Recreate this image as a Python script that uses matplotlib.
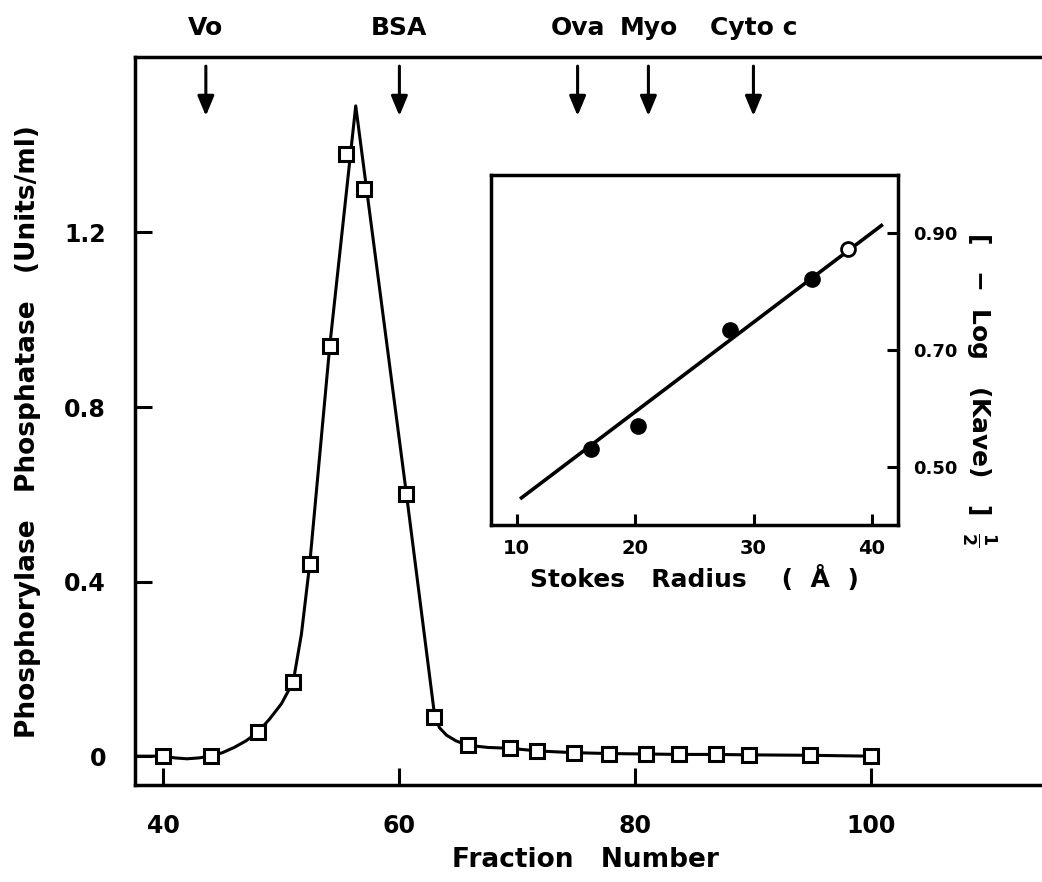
import numpy as np
import matplotlib
matplotlib.use('Agg')
import matplotlib.pyplot as plt

plt.rcParams['font.family'] = ['DejaVu Sans']
plt.rcParams['font.weight'] = 'bold'
plt.rcParams['mathtext.fontset'] = 'dejavusans'
plt.rcParams['mathtext.default'] = 'bf'

# phosphatase activity across the gel filtration fractions
fraction = [40, 44, 48, 51, 52.4, 54.1, 55.5, 57.0, 60.6, 62.9, 65.8, 69.4,
            71.7, 74.8, 77.8, 80.9, 83.7, 86.8, 89.6, 94.8, 100]
activity = [0.0, 0.0, 0.055, 0.17, 0.44, 0.94, 1.38, 1.30, 0.60, 0.09, 0.025,
            0.018, 0.012, 0.008, 0.006, 0.005, 0.004, 0.004, 0.003, 0.002, 0.0]

# hand drawn elution curve
curve_x = [37.7, 40, 41, 42, 43, 44, 45, 46, 47, 48, 49, 50, 51, 51.7, 52.4,
           54.1, 56.3, 60.6, 63.0, 63.4, 64.0, 64.8, 65.8, 67.5, 69.4, 71.7,
           74.8, 77.8, 80.9, 83.7, 86.8, 89.6, 94.8, 100]
curve_y = [0.0, 0.0, -0.004, -0.006, -0.004, 0.0, 0.008, 0.02, 0.035, 0.055,
           0.085, 0.12, 0.17, 0.28, 0.44, 0.94, 1.49, 0.60, 0.09, 0.065, 0.048,
           0.035, 0.025, 0.02, 0.018, 0.012, 0.008, 0.006, 0.005, 0.004, 0.004,
           0.003, 0.002, 0.0]

# calibration standards (elution position)
standards = ['Vo', 'BSA', 'Ova', 'Myo', 'Cyto c']
standard_fraction = [43.6, 60.0, 75.1, 81.1, 90.0]

# inset: stokes radius calibration
stokes = [16.3, 20.2, 28.0, 34.9]
log_kave = [0.530, 0.569, 0.734, 0.822]
enzyme_stokes = [38.0]
enzyme_log_kave = [0.873]
fit_slope = 0.01536
fit_intercept = 0.2867
fit_range = [10.4, 40.8]

fig = plt.figure(figsize=(10.42, 8.82), dpi=100)
ax = fig.add_axes([0.1296, 0.110, 0.88, 0.8254])

ax.plot(curve_x, curve_y, color='black', lw=2.2, zorder=2)
ax.plot(fraction, activity, ls='none', marker='s', ms=10, mew=2.2,
        mfc='white', mec='black', zorder=3)

ax.set_xlim(37.6, 115.3)
ax.set_ylim(-0.066, 1.602)
ax.set_xticks([40, 60, 80, 100])
ax.set_yticks([0, 0.4, 0.8, 1.2])
ax.set_yticklabels(['0', '0.4', '0.8', '1.2'])
ax.tick_params(direction='in', length=12, width=2.2, labelsize=17)
ax.tick_params(axis='x', pad=21)
ax.tick_params(axis='y', pad=21)
ax.spines['right'].set_visible(False)
for s in ['left', 'bottom', 'top']:
    ax.spines[s].set_linewidth(2.5)

for name, fx in zip(standards, standard_fraction):
    ax.annotate('', xy=(fx, 1.467), xytext=(fx, 1.581),
                arrowprops=dict(arrowstyle='-|>,head_length=0.6,head_width=0.25',
                                lw=2.2, color='black', mutation_scale=20,
                                shrinkA=0, shrinkB=0))
    ax.text(fx, 1.669, name, ha='center', va='center', fontsize=18,
            fontweight='bold', clip_on=False)

fig.text(585 / 1042, 1 - 860 / 882, 'Fraction   Number', ha='center',
         va='center', fontsize=19, fontweight='bold')
fig.text(28 / 1042, 1 - 432 / 882,
         'Phosphorylase   Phosphatase   (Units/ml)', rotation=90,
         ha='center', va='center', fontsize=19, fontweight='bold')

# inset
ins = fig.add_axes([0.4709, 0.4048, 0.3909, 0.3968])
fx = np.array(fit_range)
ins.plot(fx, fit_slope * fx + fit_intercept, color='black', lw=2.6, zorder=2)
ins.plot(stokes, log_kave, ls='none', marker='o', ms=11, color='black', zorder=3)
ins.plot(enzyme_stokes, enzyme_log_kave, ls='none', marker='o', ms=10, mew=2,
         mfc='white', mec='black', zorder=3)
ins.set_xlim(7.8, 42.2)
ins.set_ylim(0.4, 1.0)
ins.set_xticks([10, 20, 30, 40])
ins.set_yticks([0.5, 0.7, 0.9])
ins.set_yticklabels(['0.50', '0.70', '0.90'])
ins.yaxis.tick_right()
ins.tick_params(direction='in', length=8, width=2.2, labelsize=14)
ins.tick_params(axis='x', pad=10)
ins.tick_params(axis='y', labelsize=13, pad=11)
for s in ins.spines.values():
    s.set_linewidth(2.5)
ins.set_xlabel('Stokes   Radius    (  Å  )', fontsize=18, fontweight='bold',
               labelpad=6)

fig.text(979 / 1042, 1 - 389 / 882,
         r'[   $-$  Log   (Kave)   ]  $\mathbf{\frac{1}{2}}$', rotation=270,
         ha='center', va='center', fontsize=18, fontweight='bold')

fig.savefig('out.png', dpi=100)
